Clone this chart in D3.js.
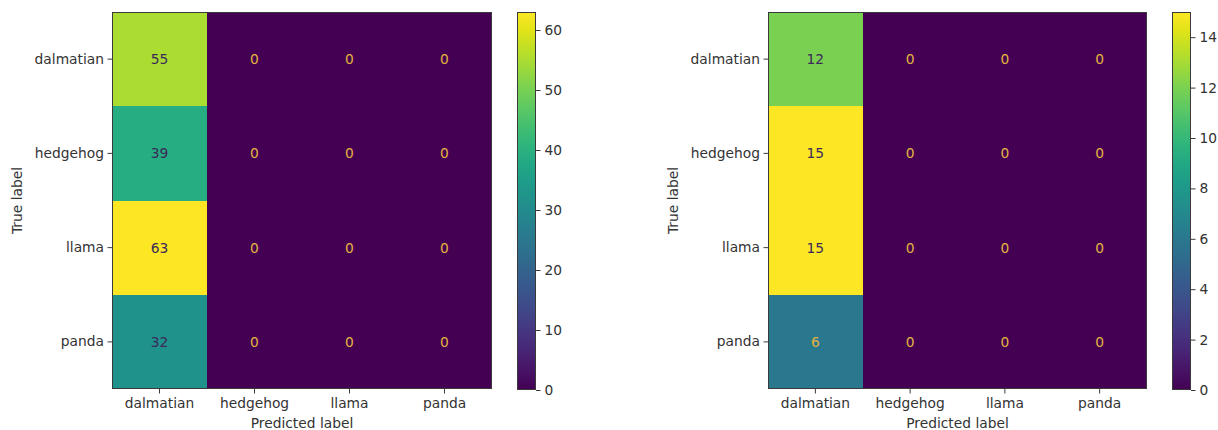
<!DOCTYPE html>
<html>
<head>
<meta charset="utf-8">
<script src="https://cdn.jsdelivr.net/npm/d3@7"></script>
<style>
  html, body { margin: 0; padding: 0; background: #ffffff; }
  svg { display: block; font-family: "DejaVu Sans", sans-serif; }
</style>
</head>
<body>
<svg id="chart" width="1218" height="430"></svg>
<script>
// ---- data ----
const categories = ["dalmatian", "hedgehog", "llama", "panda"];
const matrixLeft = [
  [55, 0, 0, 0],
  [39, 0, 0, 0],
  [63, 0, 0, 0],
  [32, 0, 0, 0]
];
const matrixRight = [
  [12, 0, 0, 0],
  [15, 0, 0, 0],
  [15, 0, 0, 0],
  [6, 0, 0, 0]
];
const colorbarTicksLeft = [0, 10, 20, 30, 40, 50, 60];
const colorbarTicksRight = [0, 2, 4, 6, 8, 10, 12, 14];
const xAxisTitle = "Predicted label";
const yAxisTitle = "True label";

const svg = d3.select("#chart");
const textColor = "#333333";
const lightText = "#e2b23e";
const darkText = "#3b2a5a";
const fontSize = 13.8;

let gradId = 0;
function drawPanel(matrix, cbTicks, layout) {
  const g = svg.append("g");
  const flat = matrix.flat();
  const vmin = d3.min(flat), vmax = d3.max(flat);
  const color = d3.scaleSequential(d3.interpolateViridis).domain([vmin, vmax]);
  const thresh = (vmin + vmax) / 2;

  const x = d3.scaleBand().domain(categories).range([layout.x0, layout.x1]);
  const y = d3.scaleBand().domain(categories).range([layout.y0, layout.y1]);

  const cells = [];
  matrix.forEach((row, i) => row.forEach((v, j) => cells.push({ t: categories[i], p: categories[j], v })));

  g.selectAll("rect.cell").data(cells).enter().append("rect")
    .attr("class", "cell")
    .attr("x", d => Math.round(x(d.p)))
    .attr("y", d => Math.round(y(d.t)))
    .attr("width", d => Math.round(x(d.p) + x.bandwidth()) - Math.round(x(d.p)))
    .attr("height", d => Math.round(y(d.t) + y.bandwidth()) - Math.round(y(d.t)))
    .attr("shape-rendering", "crispEdges")
    .attr("fill", d => color(d.v));

  g.selectAll("text.val").data(cells).enter().append("text")
    .attr("class", "val")
    .attr("x", d => x(d.p) + x.bandwidth() / 2)
    .attr("y", d => y(d.t) + y.bandwidth() / 2)
    .attr("text-anchor", "middle")
    .attr("dominant-baseline", "central")
    .attr("font-size", fontSize)
    .attr("fill", d => d.v < thresh ? lightText : darkText)
    .text(d => d.v);

  // frame
  g.append("rect")
    .attr("x", layout.x0 + 0.5).attr("y", layout.y0 + 0.5)
    .attr("width", layout.x1 - layout.x0 - 1).attr("height", layout.y1 - layout.y0 - 1)
    .attr("fill", "none").attr("stroke", "#3a3a3a").attr("stroke-width", 1);

  // axes
  const xAxis = g.append("g")
    .attr("transform", `translate(0,${layout.y1})`)
    .call(d3.axisBottom(x).tickSize(4.5).tickPadding(5));
  const yAxis = g.append("g")
    .attr("transform", `translate(${layout.x0},0)`)
    .call(d3.axisLeft(y).tickSize(4.5).tickPadding(3.5));
  [xAxis, yAxis].forEach(a => {
    a.select(".domain").remove();
    a.selectAll("line").attr("stroke", "#3a3a3a");
    a.selectAll("text").attr("font-size", fontSize).attr("fill", textColor)
      .attr("font-family", "DejaVu Sans, sans-serif");
  });

  g.append("text")
    .attr("x", (layout.x0 + layout.x1) / 2)
    .attr("y", 428)
    .attr("text-anchor", "middle")
    .attr("font-size", fontSize)
    .attr("fill", textColor)
    .text(xAxisTitle);

  g.append("text")
    .attr("transform", `translate(${layout.x0 - 90},${(layout.y0 + layout.y1) / 2}) rotate(-90)`)
    .attr("text-anchor", "middle")
    .attr("font-size", fontSize)
    .attr("fill", textColor)
    .text(yAxisTitle);

  // colorbar
  const id = "grad" + (gradId++);
  const defs = svg.append("defs");
  const grad = defs.append("linearGradient").attr("id", id)
    .attr("x1", 0).attr("y1", 1).attr("x2", 0).attr("y2", 0);
  d3.range(0, 1.0001, 0.05).forEach(t => {
    grad.append("stop").attr("offset", t).attr("stop-color", d3.interpolateViridis(t));
  });
  const cy = d3.scaleLinear().domain([vmin, vmax]).range([layout.cbY1, layout.cbY0]);
  g.append("rect")
    .attr("x", layout.cbX0 + 0.5).attr("y", layout.cbY0 + 0.5)
    .attr("width", layout.cbX1 - layout.cbX0 - 1).attr("height", layout.cbY1 - layout.cbY0 - 1)
    .attr("fill", `url(#${id})`)
    .attr("stroke", "#3a3a3a").attr("stroke-width", 1);
  const cAxis = g.append("g")
    .attr("transform", `translate(${layout.cbX1},0)`)
    .call(d3.axisRight(cy).tickValues(cbTicks).tickSize(4.5).tickPadding(4));
  cAxis.select(".domain").remove();
  cAxis.selectAll("line").attr("stroke", "#3a3a3a");
  cAxis.selectAll("text").attr("font-size", fontSize).attr("fill", textColor)
    .attr("font-family", "DejaVu Sans, sans-serif");
}

drawPanel(matrixLeft, colorbarTicksLeft, {
  x0: 112, x1: 492, y0: 12, y1: 389,
  cbX0: 517, cbX1: 536, cbY0: 12, cbY1: 390
});
drawPanel(matrixRight, colorbarTicksRight, {
  x0: 768, x1: 1147, y0: 12, y1: 389,
  cbX0: 1172, cbX1: 1191, cbY0: 12, cbY1: 390
});
</script>
</body>
</html>
